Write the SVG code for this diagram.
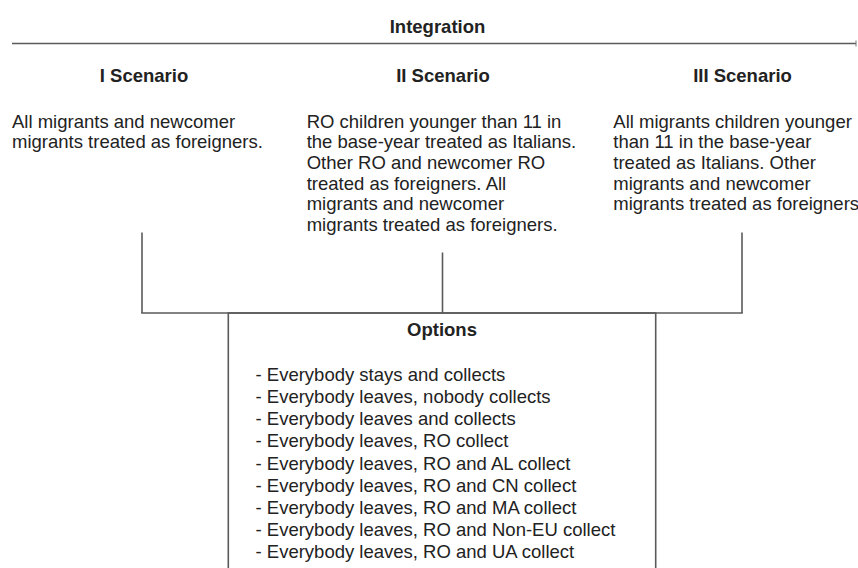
<svg xmlns="http://www.w3.org/2000/svg" width="858" height="568" viewBox="0 0 858 568">
  <style>
    text { font-family: "Liberation Sans", Arial, sans-serif; font-size: 18.5px; fill: #222; }
    .h { font-weight: bold; text-anchor: middle; }
    .ln { stroke: #5a5a5a; stroke-width: 1.6; fill: none; }
  </style>
  <defs>
    <marker id="tick" markerWidth="4" markerHeight="8" refX="2" refY="4" orient="auto" markerUnits="userSpaceOnUse">
      <path d="M2,1 L2,7" stroke="#777" stroke-width="1"/>
    </marker>
  </defs>
  <rect width="858" height="568" fill="#fff"/>

  <g id="integration">
    <text class="h" x="437.5" y="33">Integration</text>
  </g>

  <g id="connectors">
    <line class="ln" x1="12" y1="43.5" x2="856" y2="43.5" marker-end="url(#tick)"/>
    <line class="ln" x1="142" y1="232.5" x2="142" y2="313"/>
    <line class="ln" x1="442.5" y1="252.5" x2="442.5" y2="313"/>
    <line class="ln" x1="742" y1="232.5" x2="742" y2="313"/>
    <line class="ln" x1="141.2" y1="313" x2="742.8" y2="313"/>
  </g>

  <g id="scenario1">
    <text class="h" x="144" y="81.7">I Scenario</text>
    <text x="12" y="127.5">All migrants and newcomer</text>
    <text x="12" y="148.2">migrants treated as foreigners.</text>
  </g>

  <g id="scenario2">
    <text class="h" x="443" y="81.7">II Scenario</text>
    <text x="306.7" y="127.5">RO children younger than 11 in</text>
    <text x="306.7" y="148.2">the base-year treated as Italians.</text>
    <text x="306.7" y="168.9">Other RO and newcomer RO</text>
    <text x="306.7" y="189.6">treated as foreigners. All</text>
    <text x="306.7" y="210.3">migrants and newcomer</text>
    <text x="306.7" y="231">migrants treated as foreigners.</text>
  </g>

  <g id="scenario3">
    <text class="h" x="742.5" y="81.7">III Scenario</text>
    <text x="613.3" y="127.5">All migrants children younger</text>
    <text x="613.3" y="148.2">than 11 in the base-year</text>
    <text x="613.3" y="168.9">treated as Italians. Other</text>
    <text x="613.3" y="189.6">migrants and newcomer</text>
    <text x="613.3" y="210.3">migrants treated as foreigners</text>
  </g>

  <g id="options">
    <rect class="ln" x="228.3" y="313" width="427.4" height="300"/>
    <text class="h" x="442" y="336">Options</text>
    <text x="255.5" y="380.7">- Everybody stays and collects</text>
    <text x="255.5" y="402.9">- Everybody leaves, nobody collects</text>
    <text x="255.5" y="425.1">- Everybody leaves and collects</text>
    <text x="255.5" y="447.3">- Everybody leaves, RO collect</text>
    <text x="255.5" y="469.5">- Everybody leaves, RO and AL collect</text>
    <text x="255.5" y="491.7">- Everybody leaves, RO and CN collect</text>
    <text x="255.5" y="513.9">- Everybody leaves, RO and MA collect</text>
    <text x="255.5" y="536.1">- Everybody leaves, RO and Non-EU collect</text>
    <text x="255.5" y="558.3">- Everybody leaves, RO and UA collect</text>
  </g>
</svg>
